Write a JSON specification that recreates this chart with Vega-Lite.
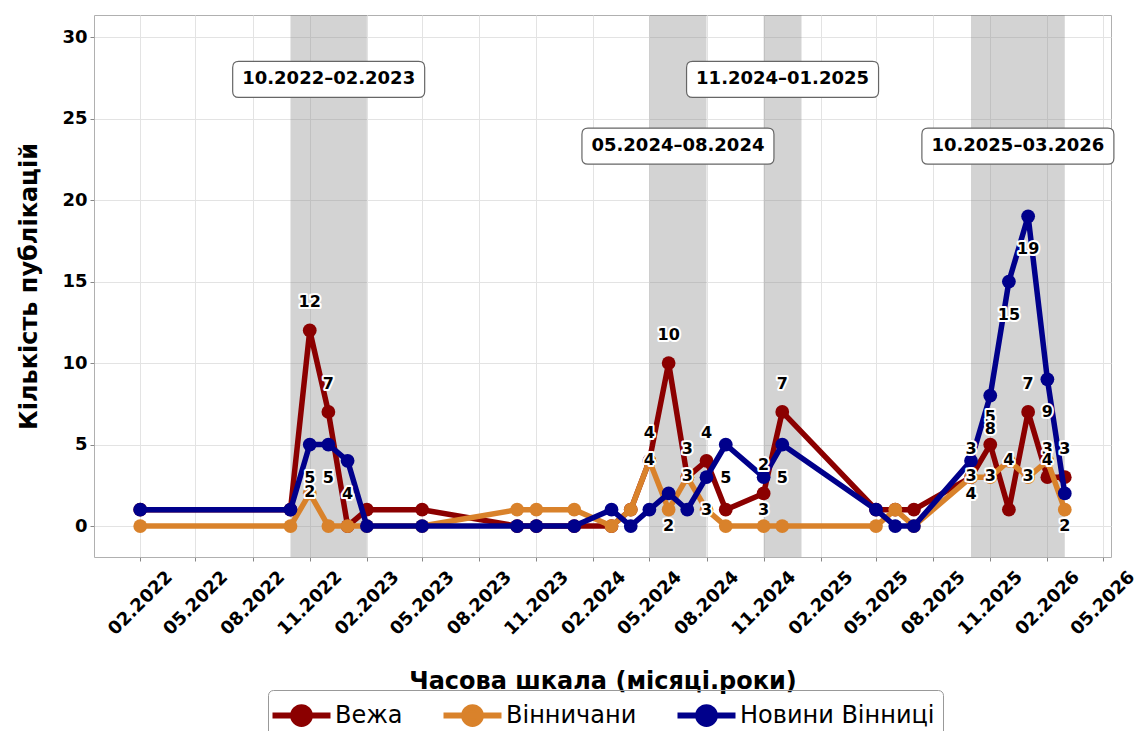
{
  "$schema": "https://vega.github.io/schema/vega-lite/v6.json",
  "width": 1017,
  "height": 542,
  "autosize": {"type": "none"},
  "padding": {"left": 94, "top": 15, "right": 23, "bottom": 174},
  "background": "white",
  "config": {
    "font": "DejaVu Sans",
    "view": {"stroke": "#b0b0b0", "strokeWidth": 1},
    "axis": {
      "gridColor": "#e3e3e3", "gridWidth": 1, "domain": false,
      "tickColor": "#888888", "tickSize": 4,
      "labelFont": "DejaVu Sans", "labelFontWeight": "bold", "labelFontSize": 18, "labelColor": "black",
      "titleFont": "DejaVu Sans", "titleFontSize": 24, "titleFontWeight": "bold", "titleColor": "black"
    }
  },
  "datasets": {
    "series": [
      {"date": "2022-02-01", "source": "Вежа", "value": 1},
      {"date": "2022-10-01", "source": "Вежа", "value": 1},
      {"date": "2022-11-01", "source": "Вежа", "value": 12},
      {"date": "2022-12-01", "source": "Вежа", "value": 7},
      {"date": "2023-01-01", "source": "Вежа", "value": 0},
      {"date": "2023-02-01", "source": "Вежа", "value": 1},
      {"date": "2023-05-01", "source": "Вежа", "value": 1},
      {"date": "2023-10-01", "source": "Вежа", "value": 0},
      {"date": "2023-11-01", "source": "Вежа", "value": 0},
      {"date": "2024-01-01", "source": "Вежа", "value": 0},
      {"date": "2024-03-01", "source": "Вежа", "value": 0},
      {"date": "2024-04-01", "source": "Вежа", "value": 1},
      {"date": "2024-05-01", "source": "Вежа", "value": 4},
      {"date": "2024-06-01", "source": "Вежа", "value": 10},
      {"date": "2024-07-01", "source": "Вежа", "value": 3},
      {"date": "2024-08-01", "source": "Вежа", "value": 4},
      {"date": "2024-09-01", "source": "Вежа", "value": 1},
      {"date": "2024-11-01", "source": "Вежа", "value": 2},
      {"date": "2024-12-01", "source": "Вежа", "value": 7},
      {"date": "2025-05-01", "source": "Вежа", "value": 1},
      {"date": "2025-06-01", "source": "Вежа", "value": 1},
      {"date": "2025-07-01", "source": "Вежа", "value": 1},
      {"date": "2025-10-01", "source": "Вежа", "value": 3},
      {"date": "2025-11-01", "source": "Вежа", "value": 5},
      {"date": "2025-12-01", "source": "Вежа", "value": 1},
      {"date": "2026-01-01", "source": "Вежа", "value": 7},
      {"date": "2026-02-01", "source": "Вежа", "value": 3},
      {"date": "2026-03-01", "source": "Вежа", "value": 3},
      {"date": "2022-02-01", "source": "Вінничани", "value": 0},
      {"date": "2022-10-01", "source": "Вінничани", "value": 0},
      {"date": "2022-11-01", "source": "Вінничани", "value": 2},
      {"date": "2022-12-01", "source": "Вінничани", "value": 0},
      {"date": "2023-01-01", "source": "Вінничани", "value": 0},
      {"date": "2023-02-01", "source": "Вінничани", "value": 0},
      {"date": "2023-05-01", "source": "Вінничани", "value": 0},
      {"date": "2023-10-01", "source": "Вінничани", "value": 1},
      {"date": "2023-11-01", "source": "Вінничани", "value": 1},
      {"date": "2024-01-01", "source": "Вінничани", "value": 1},
      {"date": "2024-03-01", "source": "Вінничани", "value": 0},
      {"date": "2024-04-01", "source": "Вінничани", "value": 1},
      {"date": "2024-05-01", "source": "Вінничани", "value": 4},
      {"date": "2024-06-01", "source": "Вінничани", "value": 1},
      {"date": "2024-07-01", "source": "Вінничани", "value": 3},
      {"date": "2024-08-01", "source": "Вінничани", "value": 1},
      {"date": "2024-09-01", "source": "Вінничани", "value": 0},
      {"date": "2024-11-01", "source": "Вінничани", "value": 0},
      {"date": "2024-12-01", "source": "Вінничани", "value": 0},
      {"date": "2025-05-01", "source": "Вінничани", "value": 0},
      {"date": "2025-06-01", "source": "Вінничани", "value": 1},
      {"date": "2025-07-01", "source": "Вінничани", "value": 0},
      {"date": "2025-10-01", "source": "Вінничани", "value": 3},
      {"date": "2025-11-01", "source": "Вінничани", "value": 3},
      {"date": "2025-12-01", "source": "Вінничани", "value": 4},
      {"date": "2026-01-01", "source": "Вінничани", "value": 3},
      {"date": "2026-02-01", "source": "Вінничани", "value": 4},
      {"date": "2026-03-01", "source": "Вінничани", "value": 1},
      {"date": "2022-02-01", "source": "Новини Вінниці", "value": 1},
      {"date": "2022-10-01", "source": "Новини Вінниці", "value": 1},
      {"date": "2022-11-01", "source": "Новини Вінниці", "value": 5},
      {"date": "2022-12-01", "source": "Новини Вінниці", "value": 5},
      {"date": "2023-01-01", "source": "Новини Вінниці", "value": 4},
      {"date": "2023-02-01", "source": "Новини Вінниці", "value": 0},
      {"date": "2023-05-01", "source": "Новини Вінниці", "value": 0},
      {"date": "2023-10-01", "source": "Новини Вінниці", "value": 0},
      {"date": "2023-11-01", "source": "Новини Вінниці", "value": 0},
      {"date": "2024-01-01", "source": "Новини Вінниці", "value": 0},
      {"date": "2024-03-01", "source": "Новини Вінниці", "value": 1},
      {"date": "2024-04-01", "source": "Новини Вінниці", "value": 0},
      {"date": "2024-05-01", "source": "Новини Вінниці", "value": 1},
      {"date": "2024-06-01", "source": "Новини Вінниці", "value": 2},
      {"date": "2024-07-01", "source": "Новини Вінниці", "value": 1},
      {"date": "2024-08-01", "source": "Новини Вінниці", "value": 3},
      {"date": "2024-09-01", "source": "Новини Вінниці", "value": 5},
      {"date": "2024-11-01", "source": "Новини Вінниці", "value": 3},
      {"date": "2024-12-01", "source": "Новини Вінниці", "value": 5},
      {"date": "2025-05-01", "source": "Новини Вінниці", "value": 1},
      {"date": "2025-06-01", "source": "Новини Вінниці", "value": 0},
      {"date": "2025-07-01", "source": "Новини Вінниці", "value": 0},
      {"date": "2025-10-01", "source": "Новини Вінниці", "value": 4},
      {"date": "2025-11-01", "source": "Новини Вінниці", "value": 8},
      {"date": "2025-12-01", "source": "Новини Вінниці", "value": 15},
      {"date": "2026-01-01", "source": "Новини Вінниці", "value": 19},
      {"date": "2026-02-01", "source": "Новини Вінниці", "value": 9},
      {"date": "2026-03-01", "source": "Новини Вінниці", "value": 2}
    ],
    "spans": [
      {"start": "2022-10-01", "end": "2023-02-01", "mid": "2022-12-01T12:00:00Z", "level": 27.4, "label": "10.2022–02.2023"},
      {"start": "2024-05-01", "end": "2024-08-01", "mid": "2024-06-16T00:00:00Z", "level": 23.3, "label": "05.2024–08.2024"},
      {"start": "2024-11-01", "end": "2025-01-01", "mid": "2024-12-01T12:00:00Z", "level": 27.4, "label": "11.2024–01.2025"},
      {"start": "2025-10-01", "end": "2026-03-01", "mid": "2025-12-15T12:00:00Z", "level": 23.3, "label": "10.2025–03.2026"}
    ]
  },
  "layer": [
    {
      "data": {"name": "spans"},
      "mark": {"type": "rect", "color": "#808080", "opacity": 0.35},
      "encoding": {
        "x": {
          "field": "start", "type": "temporal", "title": "Часова шкала (місяці.роки)",
          "scale": {"type": "utc", "domain": [
            {"year": 2021, "month": 11, "date": 18, "hours": 13, "utc": true},
            {"year": 2026, "month": 5, "date": 14, "hours": 11, "utc": true}
          ]},
          "axis": {
            "values": [
              {"year": 2022, "month": 2, "date": 1, "utc": true},
              {"year": 2022, "month": 5, "date": 1, "utc": true},
              {"year": 2022, "month": 8, "date": 1, "utc": true},
              {"year": 2022, "month": 11, "date": 1, "utc": true},
              {"year": 2023, "month": 2, "date": 1, "utc": true},
              {"year": 2023, "month": 5, "date": 1, "utc": true},
              {"year": 2023, "month": 8, "date": 1, "utc": true},
              {"year": 2023, "month": 11, "date": 1, "utc": true},
              {"year": 2024, "month": 2, "date": 1, "utc": true},
              {"year": 2024, "month": 5, "date": 1, "utc": true},
              {"year": 2024, "month": 8, "date": 1, "utc": true},
              {"year": 2024, "month": 11, "date": 1, "utc": true},
              {"year": 2025, "month": 2, "date": 1, "utc": true},
              {"year": 2025, "month": 5, "date": 1, "utc": true},
              {"year": 2025, "month": 8, "date": 1, "utc": true},
              {"year": 2025, "month": 11, "date": 1, "utc": true},
              {"year": 2026, "month": 2, "date": 1, "utc": true},
              {"year": 2026, "month": 5, "date": 1, "utc": true}
            ],
            "labelExpr": "utcFormat(datum.value, '%m.%Y')",
            "labelAngle": -45, "labelAlign": "center", "labelBaseline": "middle",
            "labelPadding": 42, "titlePadding": 31, "labelOverlap": false, "labelFlush": false
          }
        },
        "x2": {"field": "end"}
      }
    },
    {
      "data": {"name": "series"},
      "transform": [{"filter": "datum.source === 'Вежа'"}],
      "mark": {"type": "line", "strokeWidth": 5.5, "strokeJoin": "round", "point": {"filled": true, "size": 190, "opacity": 1}},
      "encoding": {
        "x": {"field": "date", "type": "temporal", "title": "Часова шкала (місяці.роки)"},
        "y": {
          "field": "value", "type": "quantitative", "title": "Кількість публікацій",
          "scale": {"domain": [-1.9, 31.35], "nice": false, "zero": false},
          "axis": {"values": [0, 5, 10, 15, 20, 25, 30], "labelPadding": 3, "titlePadding": 20}
        },
        "color": {
          "field": "source", "type": "nominal", "title": null,
          "scale": {"domain": ["Вежа", "Вінничани", "Новини Вінниці"], "range": ["#8b0000", "#d9822b", "#00008b"]},
          "legend": {
            "orient": "none", "legendX": 174, "legendY": 675, "direction": "horizontal", "title": null,
            "symbolType": "M-2,0L2,0M0.58,0A0.58,0.58,0,1,1,-0.58,0A0.58,0.58,0,1,1,0.58,0Z",
            "symbolSize": 841, "symbolStrokeWidth": 6, "symbolOpacity": 1, "symbolOffset": 8,
            "labelFontSize": 24, "labelFont": "DejaVu Sans", "labelColor": "black", "labelLimit": 400,
            "strokeColor": "#999999", "cornerRadius": 5, "padding": 8,
            "columnPadding": 28, "labelOffset": 16,
            "encode": {"symbols": {"update": {"fill": {"scale": "color", "field": "value"}, "stroke": {"scale": "color", "field": "value"}}}}
          }
        }
      }
    },
    {
      "data": {"name": "series"},
      "transform": [{"filter": "datum.source === 'Вінничани'"}],
      "mark": {"type": "line", "strokeWidth": 5.5, "strokeJoin": "round", "point": {"filled": true, "size": 190, "opacity": 1}},
      "encoding": {
        "x": {"field": "date", "type": "temporal", "title": "Часова шкала (місяці.роки)"},
        "y": {"field": "value", "type": "quantitative", "title": "Кількість публікацій"},
        "color": {"field": "source", "type": "nominal", "title": null}
      }
    },
    {
      "data": {"name": "series"},
      "transform": [{"filter": "datum.source === 'Новини Вінниці'"}],
      "mark": {"type": "line", "strokeWidth": 5.5, "strokeJoin": "round", "point": {"filled": true, "size": 190, "opacity": 1}},
      "encoding": {
        "x": {"field": "date", "type": "temporal", "title": "Часова шкала (місяці.роки)"},
        "y": {"field": "value", "type": "quantitative", "title": "Кількість публікацій"},
        "color": {"field": "source", "type": "nominal", "title": null}
      }
    },
    {
      "data": {"name": "series"},
      "transform": [{"filter": "datum.source === 'Вежа' && datum.value >= 2"}],
      "mark": {"type": "text", "fontWeight": "bold", "fontSize": 16, "dy": -28, "fill": "white", "stroke": "white", "strokeWidth": 4, "strokeJoin": "round"},
      "encoding": {
        "x": {"field": "date", "type": "temporal", "title": "Часова шкала (місяці.роки)"},
        "y": {"field": "value", "type": "quantitative", "title": "Кількість публікацій"},
        "text": {"field": "value", "type": "quantitative"}
      }
    },
    {
      "data": {"name": "series"},
      "transform": [{"filter": "datum.source === 'Вежа' && datum.value >= 2"}],
      "mark": {"type": "text", "fontWeight": "bold", "fontSize": 16, "dy": -28, "fill": "black"},
      "encoding": {
        "x": {"field": "date", "type": "temporal", "title": "Часова шкала (місяці.роки)"},
        "y": {"field": "value", "type": "quantitative", "title": "Кількість публікацій"},
        "text": {"field": "value", "type": "quantitative"}
      }
    },
    {
      "data": {"name": "series"},
      "transform": [{"filter": "datum.source === 'Вінничани' && datum.value >= 2"}],
      "mark": {"type": "text", "fontWeight": "bold", "fontSize": 16, "dy": -1, "fill": "white", "stroke": "white", "strokeWidth": 4, "strokeJoin": "round"},
      "encoding": {
        "x": {"field": "date", "type": "temporal", "title": "Часова шкала (місяці.роки)"},
        "y": {"field": "value", "type": "quantitative", "title": "Кількість публікацій"},
        "text": {"field": "value", "type": "quantitative"}
      }
    },
    {
      "data": {"name": "series"},
      "transform": [{"filter": "datum.source === 'Вінничани' && datum.value >= 2"}],
      "mark": {"type": "text", "fontWeight": "bold", "fontSize": 16, "dy": -1, "fill": "black"},
      "encoding": {
        "x": {"field": "date", "type": "temporal", "title": "Часова шкала (місяці.роки)"},
        "y": {"field": "value", "type": "quantitative", "title": "Кількість публікацій"},
        "text": {"field": "value", "type": "quantitative"}
      }
    },
    {
      "data": {"name": "series"},
      "transform": [{"filter": "datum.source === 'Новини Вінниці' && datum.value >= 2"}],
      "mark": {"type": "text", "fontWeight": "bold", "fontSize": 16, "dy": 33, "fill": "white", "stroke": "white", "strokeWidth": 4, "strokeJoin": "round"},
      "encoding": {
        "x": {"field": "date", "type": "temporal", "title": "Часова шкала (місяці.роки)"},
        "y": {"field": "value", "type": "quantitative", "title": "Кількість публікацій"},
        "text": {"field": "value", "type": "quantitative"}
      }
    },
    {
      "data": {"name": "series"},
      "transform": [{"filter": "datum.source === 'Новини Вінниці' && datum.value >= 2"}],
      "mark": {"type": "text", "fontWeight": "bold", "fontSize": 16, "dy": 33, "fill": "black"},
      "encoding": {
        "x": {"field": "date", "type": "temporal", "title": "Часова шкала (місяці.роки)"},
        "y": {"field": "value", "type": "quantitative", "title": "Кількість публікацій"},
        "text": {"field": "value", "type": "quantitative"}
      }
    },
    {
      "data": {"name": "spans"},
      "mark": {
        "type": "point", "filled": true, "fill": "white", "stroke": "#666666", "strokeWidth": 1.2, "opacity": 1, "fillOpacity": 1,
        "shape": "M-0.9375,-0.1875L0.9375,-0.1875Q1,-0.1875,1,-0.125L1,0.125Q1,0.1875,0.9375,0.1875L-0.9375,0.1875Q-1,0.1875,-1,0.125L-1,-0.125Q-1,-0.1875,-0.9375,-0.1875Z",
        "size": 36864
      },
      "encoding": {
        "x": {"field": "mid", "type": "temporal", "title": "Часова шкала (місяці.роки)"},
        "y": {"field": "level", "type": "quantitative", "title": "Кількість публікацій"}
      }
    },
    {
      "data": {"name": "spans"},
      "mark": {"type": "text", "fontWeight": "bold", "fontSize": 18, "fill": "black", "baseline": "middle"},
      "encoding": {
        "x": {"field": "mid", "type": "temporal", "title": "Часова шкала (місяці.роки)"},
        "y": {"field": "level", "type": "quantitative", "title": "Кількість публікацій"},
        "text": {"field": "label", "type": "nominal"}
      }
    }
  ]
}
